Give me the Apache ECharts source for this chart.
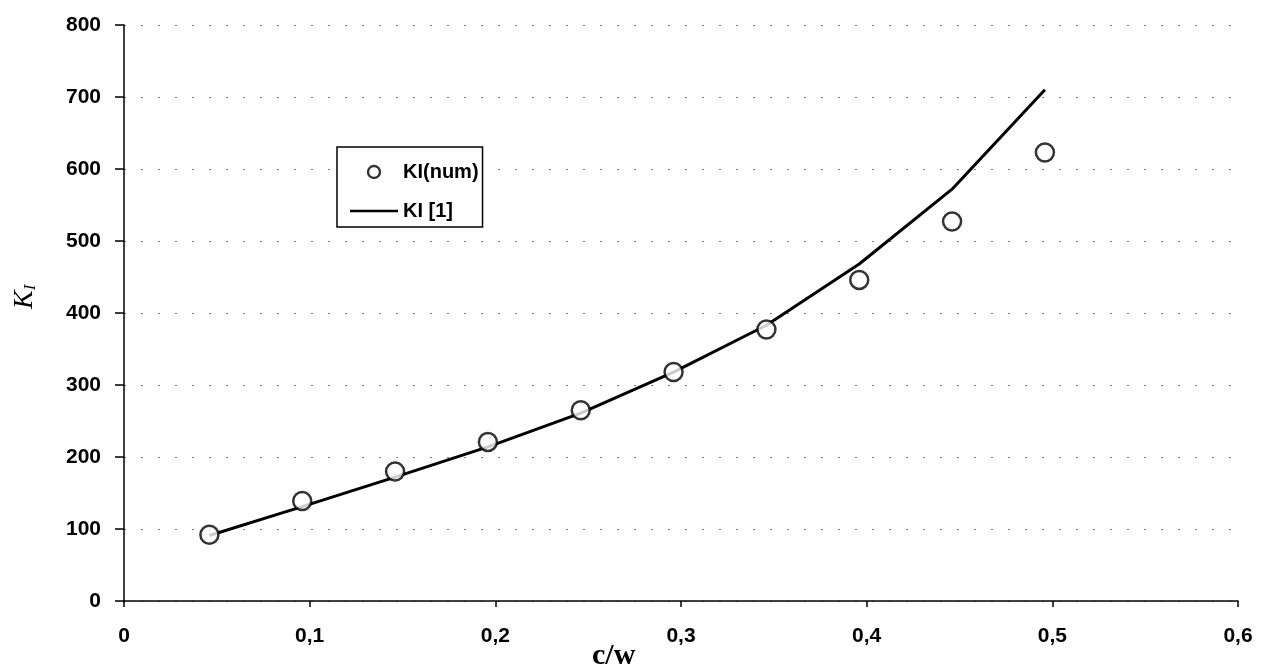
<!DOCTYPE html>
<html>
<head>
<meta charset="utf-8">
<script src="https://cdn.jsdelivr.net/npm/echarts@6/dist/echarts.min.js"></script>
<style>
  html, body { margin: 0; padding: 0; background: #fff; }
  #chart { width: 1271px; height: 670px; }
</style>
</head>
<body>
<div id="chart"></div>
<script>
// c/w positions of the computed points
const cw = [0.046, 0.096, 0.146, 0.196, 0.246, 0.296, 0.346, 0.396, 0.446, 0.496];
// KI numerical results (circles)
const kiNum = [92, 139, 180, 221, 265, 318, 377, 446, 527, 623];
// KI reference [1] (line)
const kiRef = [91, 131, 172, 214, 261, 318, 383, 468, 572, 710];
const yTicks = [0, 100, 200, 300, 400, 500, 600, 700, 800];

const font = 'Liberation Sans, Arial, sans-serif';

const chart = echarts.init(document.getElementById('chart'));

const option = {
  animation: false,
  backgroundColor: '#fff',
  grid: { left: 124, right: 33, top: 25, bottom: 69 },
  xAxis: {
    type: 'value',
    min: 0,
    max: 0.6,
    interval: 0.1,
    axisLine: { lineStyle: { color: '#000', width: 1.5 } },
    axisTick: { length: 6, lineStyle: { color: '#000', width: 1.5 } },
    axisLabel: {
      color: '#000',
      fontSize: 21,
      fontWeight: 'bold',
      fontFamily: font,
      margin: 25,
      formatter: v => (v === 0 ? '0' : v.toFixed(1).replace('.', ','))
    },
    splitLine: { show: false }
  },
  yAxis: {
    type: 'value',
    min: 0,
    max: 800,
    interval: 100,
    axisLine: { show: true, lineStyle: { color: '#000', width: 1.5 } },
    axisTick: { show: true, length: 9, lineStyle: { color: '#000', width: 1.5 } },
    axisLabel: {
      color: '#000',
      fontSize: 21,
      fontWeight: 'bold',
      fontFamily: font,
      margin: 23,
      formatter: v => (yTicks.includes(v) ? String(v) : '')
    },
    splitLine: {
      show: true,
      lineStyle: { color: '#777', width: 1, type: [2, 15] }
    }
  },
  legend: {
    left: 337,
    top: 147,
    orient: 'vertical',
    backgroundColor: '#fff',
    borderColor: '#000',
    borderWidth: 1.5,
    padding: [15, 4, 6, 13],
    itemGap: 19,
    itemWidth: 48,
    itemHeight: 12,
    textStyle: { color: '#000', fontSize: 20, fontWeight: 'bold', fontFamily: font },
    data: [
      {
        name: 'KI(num)',
        icon: 'circle',
        itemStyle: { color: '#fff', borderColor: '#000', borderWidth: 2.4 }
      },
      {
        name: 'KI [1]',
        icon: 'path://M0,0L48,0L48,2.5L0,2.5Z',
        itemStyle: { color: '#000', borderWidth: 0 }
      }
    ]
  },
  graphic: [
    {
      type: 'text',
      left: 592,
      top: 641,
      style: {
        text: 'c/w',
        font: 'bold 30px "Liberation Serif", "Times New Roman", serif',
        fill: '#000'
      }
    },
    {
      type: 'text',
      x: 10,
      y: 309,
      rotation: Math.PI / 2,
      style: {
        text: '{k|K}{s|I}',
        fill: '#000',
        rich: {
          k: { font: 'italic 28px "Liberation Serif", serif', fill: '#000' },
          s: { font: 'italic 17px "Liberation Serif", serif', fill: '#000', padding: [12, 0, 0, 0] }
        }
      }
    }
  ],
  series: [
    {
      name: 'KI [1]',
      type: 'line',
      data: cw.map((x, i) => [x, kiRef[i]]),
      showSymbol: false,
      symbol: 'none',
      lineStyle: { color: '#000', width: 3 },
      itemStyle: { color: '#000' },
      z: 2
    },
    {
      name: 'KI(num)',
      type: 'scatter',
      data: cw.map((x, i) => [x, kiNum[i]]),
      symbol: 'circle',
      symbolSize: 18,
      itemStyle: { color: '#fff', borderColor: '#000', borderWidth: 2.5 },
      z: 3
    }
  ]
};

chart.setOption(option);
</script>
</body>
</html>
